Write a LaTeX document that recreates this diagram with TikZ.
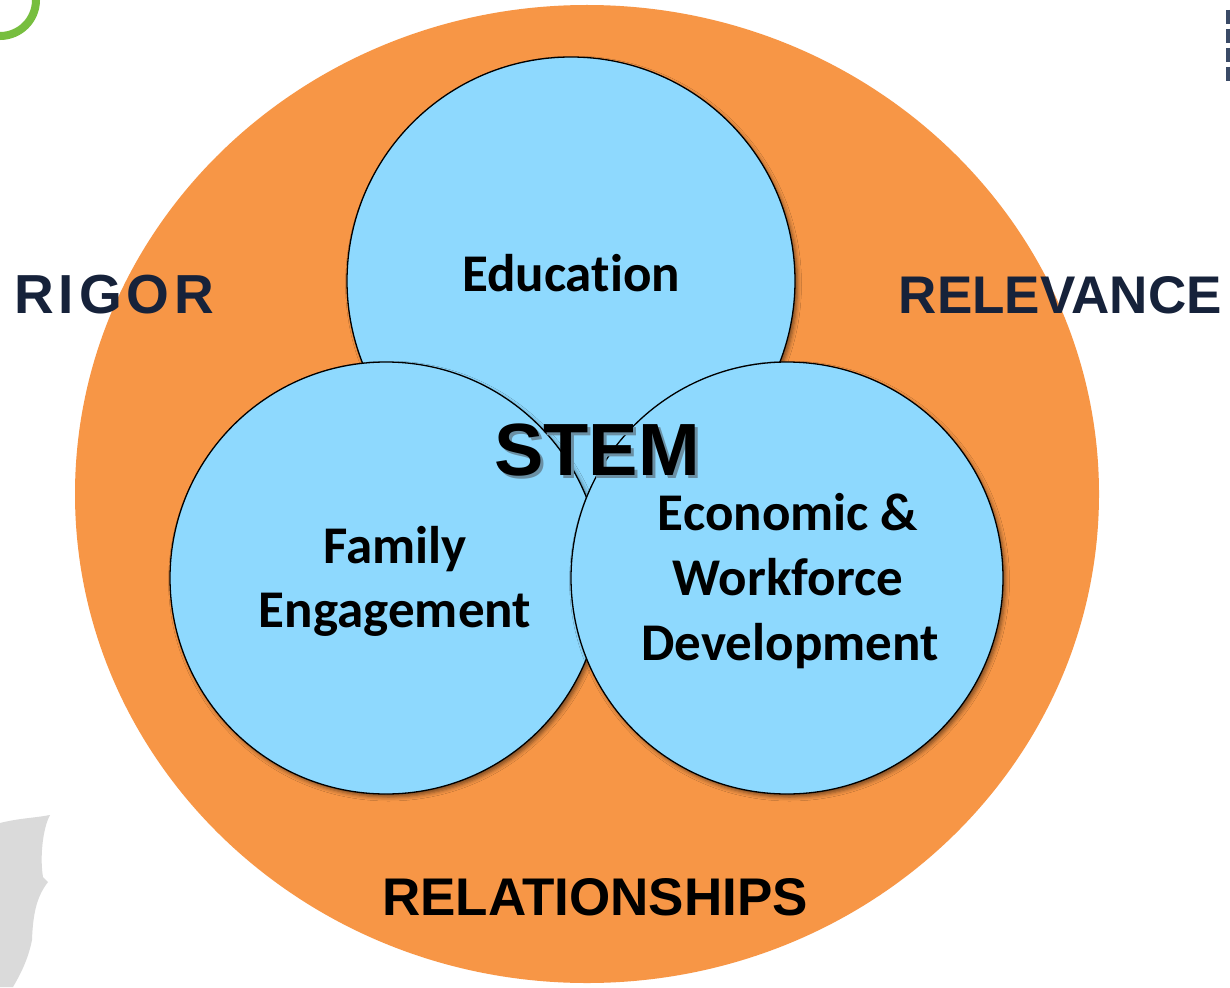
\documentclass[tikz,border=0pt]{standalone}
\usepackage{fontspec}
\setmainfont{Liberation Sans}
\newfontfamily\calfont[Ligatures=NoCommon]{Carlito}
\newfontfamily\arfont{Liberation Sans}
\newfontfamily\arspaced[LetterSpace=9]{Liberation Sans}
\usetikzlibrary{shapes.geometric,shadows.blur}
\definecolor{orangefill}{HTML}{F79646}
\definecolor{bluefill}{HTML}{8ED9FE}
\definecolor{navytext}{HTML}{16223A}
\definecolor{logogreen}{HTML}{77BE3F}
\definecolor{ghostgray}{HTML}{DADADA}
\definecolor{stripblue}{HTML}{3A4A66}
\definecolor{stemshadowcol}{HTML}{6A8FA3}
\newcommand{\shadowedword}[1]{\rlap{\kern3pt\raisebox{-3pt}{\textcolor{stemshadowcol}{#1}}}#1}
\begin{document}
\begin{tikzpicture}[x=1pt,y=-1pt,
  ring/.style={ellipse, fill=orangefill, inner sep=0pt, minimum width=1024pt, minimum height=978pt},
  bubble/.style={circle, fill=bluefill, draw=black, line width=1.3pt, inner sep=0pt,
    blur shadow={shadow xshift=2.5pt, shadow yshift=-3pt, shadow blur radius=4pt, shadow opacity=50}},
  bubbletext/.style={font=\calfont\bfseries\fontsize{53}{62}\selectfont, anchor=base, inner sep=0pt},
  outertext/.style={font=\arfont\bfseries\fontsize{53}{62}\selectfont, inner sep=0pt},
  stemtext/.style={font=\arfont\bfseries\fontsize{74}{80}\selectfont, anchor=base, inner sep=0pt}
]
\useasboundingbox (0,0) rectangle (1230,987);
\clip (0,0) rectangle (1230,987);
\fill[white] (0,0) rectangle (1230,987);

% slide remnants
\draw[logogreen, line width=8pt] (0,0) circle (36pt);
\fill[ghostgray] (0,823) .. controls (20,818) and (35,818) .. (50,815)
  .. controls (42,830) and (40,860) .. (43,877) -- (48,882)
  .. controls (38,895) and (33,910) .. (32,940)
  .. controls (28,960) and (20,975) .. (13,987) -- (0,987) -- cycle;
\draw[stripblue, line width=4pt, dash pattern=on 14pt off 5pt] (1228,10) -- (1228,82);

% circles
\node[ring] (ring) at (587,494) {};
\node[bubble, minimum size=448pt] (edu) at (571,281) {};
\node[bubble, minimum size=432pt] (fam) at (386,578) {};
\node[bubble, minimum size=432pt] (eco) at (787,578) {};

% circle labels
\node[bubbletext] (edut) at (571,291) {Education};
\node[bubbletext] (famt1) at (395,563) {Family};
\node[bubbletext] (famt2) at (395,627) {Engagement};
\node[bubbletext] (ecot1) at (788,530) {Economic \&};
\node[bubbletext] (ecot2) at (788,595) {Workforce};
\node[bubbletext] (ecot3) at (790,660) {Development};

% STEM with shadow
\node[stemtext] (stem) at (597,475) {\shadowedword{STEM}};

% outer words
\node[outertext, text=navytext, anchor=base west, font=\arspaced\bfseries\fontsize{55}{62}\selectfont] (rigor) at (14,313) {RIGOR};
\node[outertext, text=navytext, anchor=base east] (relevance) at (1222,313) {RELEVANCE};
\node[outertext, text=black, anchor=base] (relationships) at (595,915) {RELATIONSHIPS};
\end{tikzpicture}
\end{document}
